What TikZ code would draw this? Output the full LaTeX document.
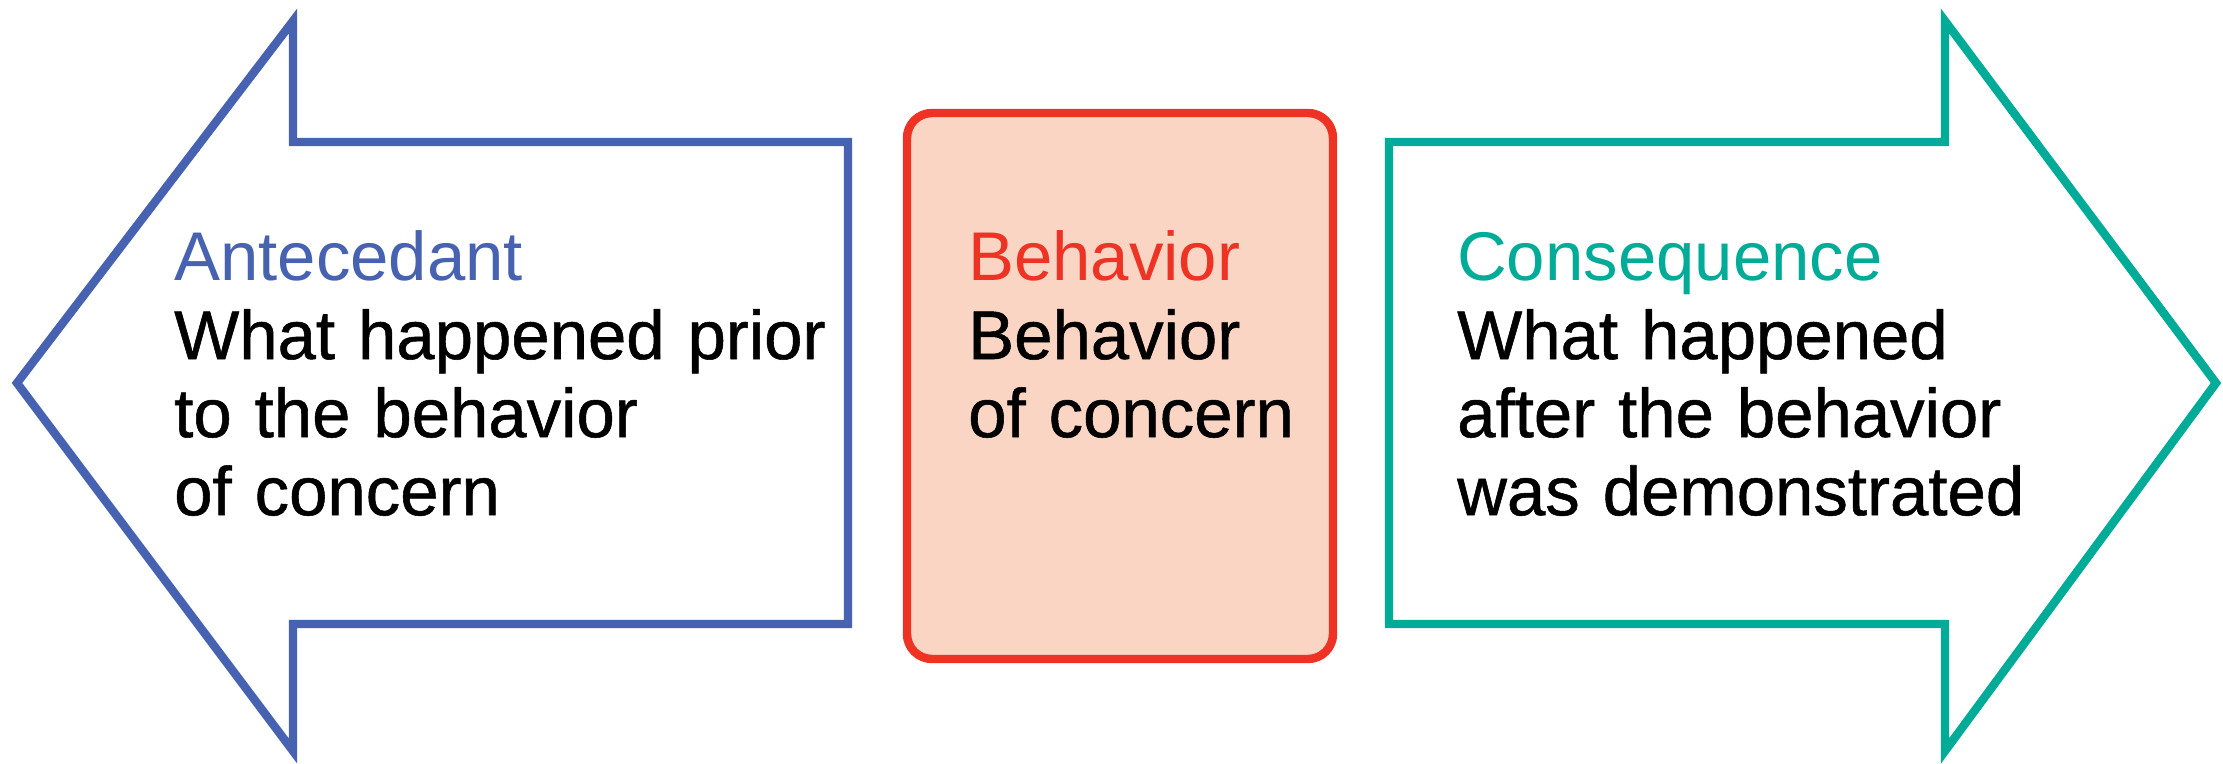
\documentclass[tikz,border=0pt]{standalone}
\usepackage{fontspec}
\setmainfont{Liberation Sans}
\newfontfamily\heavyfont{Liberation Sans}[FakeBold=0.8]
\definecolor{antblue}{RGB}{72,98,178}
\definecolor{behred}{RGB}{238,50,36}
\definecolor{behfill}{RGB}{250,213,195}
\definecolor{conteal}{RGB}{0,172,152}
\tikzset{
  blocktext/.style={anchor=base west, align=left, text width=8cm, inner sep=0pt,
    font=\fontsize{19.6}{22.2}\selectfont},
}
\begin{document}
\begin{tikzpicture}[x=0.01cm, y=-0.01cm, line width=2.4pt]
\useasboundingbox (0,0) rectangle (2223,764);
%% antecedant arrow (points left)
\draw[antblue] (17,383) -- (293,21) -- (293,142) -- (848,142) -- (848,624)
    -- (293,624) -- (293,751) -- cycle;
%% behavior box
\draw[behred, fill=behfill, rounded corners=0.25cm] (907,113) rectangle (1333,659);
%% consequence arrow (points right)
\draw[conteal] (2216,383) -- (1945,21) -- (1945,142) -- (1389,142) -- (1389,624)
    -- (1945,624) -- (1945,751) -- cycle;
%% texts
\node[blocktext] (ant) at (170,281)
    {\textcolor{antblue}{Antecedant}\\\heavyfont What happened prior\\to the behavior\\of concern};
\node[blocktext] (beh) at (964,281)
    {\textcolor{behred}{Behavior}\\\heavyfont Behavior\\of concern};
\node[blocktext] (con) at (1453,281)
    {\textcolor{conteal}{Consequence}\\\heavyfont What happened\\after the behavior\\was demonstrated};
\end{tikzpicture}
\end{document}
